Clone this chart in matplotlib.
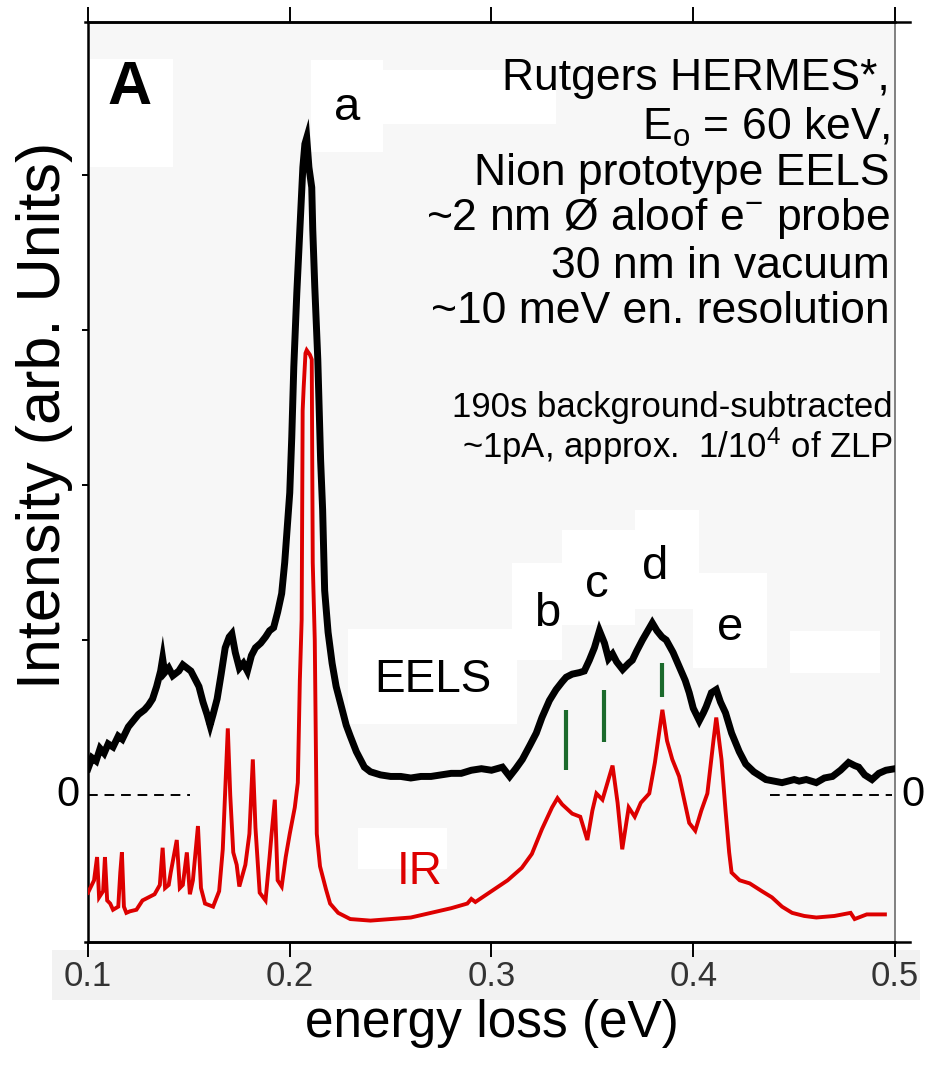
import matplotlib
matplotlib.use("Agg")
import matplotlib.pyplot as plt
from matplotlib import font_manager
from matplotlib.patches import Rectangle

# ---------------- data ----------------
eels_x = [0.1000, 0.1020, 0.1040, 0.1060, 0.1080, 0.1100, 0.1124, 0.1150, 0.1170, 0.1200,
          0.1225, 0.1250, 0.1280, 0.1300, 0.1320, 0.1340, 0.1360, 0.1370, 0.1380, 0.1400,
          0.1420, 0.1450, 0.1470, 0.1490, 0.1510, 0.1530, 0.1550, 0.1570, 0.1590, 0.1605,
          0.1620, 0.1640, 0.1660, 0.1680, 0.1700, 0.1713, 0.1730, 0.1750, 0.1770, 0.1790,
          0.1810, 0.1830, 0.1856, 0.1880, 0.1900, 0.1920, 0.1940, 0.1960, 0.1975, 0.2000,
          0.2010, 0.2020, 0.2035, 0.2050, 0.2065, 0.2075, 0.2084, 0.2095, 0.2109, 0.2114,
          0.2124, 0.2139, 0.2153, 0.2163, 0.2173, 0.2190, 0.2210, 0.2230, 0.2250, 0.2280,
          0.2300, 0.2330, 0.2370, 0.2400, 0.2450, 0.2500, 0.2550, 0.2600, 0.2650, 0.2700,
          0.2750, 0.2800, 0.2850, 0.2900, 0.2950, 0.3000, 0.3054, 0.3090, 0.3120, 0.3153,
          0.3190, 0.3222, 0.3250, 0.3287, 0.3320, 0.3350, 0.3370, 0.3400, 0.3436, 0.3460,
          0.3485, 0.3510, 0.3535, 0.3560, 0.3580, 0.3600, 0.3620, 0.3650, 0.3680, 0.3698,
          0.3720, 0.3748, 0.3770, 0.3797, 0.3820, 0.3845, 0.3866, 0.3900, 0.3930, 0.3960,
          0.3980, 0.4000, 0.4030, 0.4050, 0.4064, 0.4090, 0.4114, 0.4135, 0.4160, 0.4190,
          0.4228, 0.4260, 0.4300, 0.4360, 0.4400, 0.4440, 0.4500, 0.4525, 0.4560, 0.4610,
          0.4650, 0.4690, 0.4730, 0.4770, 0.4800, 0.4820, 0.4850, 0.4886, 0.4920, 0.4955,
          0.5000]
eels_y = [0.17, 0.24, 0.22, 0.30, 0.27, 0.33, 0.31, 0.38, 0.36, 0.44,
          0.48, 0.52, 0.55, 0.58, 0.62, 0.70, 0.80, 0.88, 0.79, 0.82,
          0.77, 0.80, 0.84, 0.82, 0.80, 0.75, 0.70, 0.60, 0.52, 0.45,
          0.52, 0.62, 0.78, 0.95, 1.02, 1.04, 0.92, 0.82, 0.85, 0.80,
          0.90, 0.95, 0.98, 1.02, 1.06, 1.08, 1.18, 1.30, 1.50, 1.95,
          2.31, 2.76, 3.24, 3.65, 4.05, 4.20, 4.24, 4.05, 3.92, 3.65,
          3.28, 2.81, 2.16, 1.84, 1.32, 1.05, 0.85, 0.70, 0.60, 0.45,
          0.38, 0.28, 0.18, 0.15, 0.13, 0.12, 0.12, 0.11, 0.12, 0.12,
          0.13, 0.14, 0.14, 0.16, 0.17, 0.16, 0.18, 0.12, 0.17, 0.23,
          0.32, 0.40, 0.50, 0.61, 0.68, 0.73, 0.76, 0.78, 0.79, 0.80,
          0.87, 0.95, 1.06, 0.98, 0.88, 0.91, 0.86, 0.81, 0.85, 0.87,
          0.93, 1.00, 1.05, 1.11, 1.06, 1.02, 1.00, 0.92, 0.83, 0.74,
          0.66, 0.56, 0.48, 0.53, 0.57, 0.66, 0.68, 0.60, 0.53, 0.40,
          0.28, 0.20, 0.15, 0.10, 0.09, 0.08, 0.10, 0.09, 0.10, 0.08,
          0.11, 0.12, 0.16, 0.21, 0.19, 0.18, 0.13, 0.10, 0.14, 0.16,
          0.17]

ir_x = [0.1000, 0.1030, 0.1045, 0.1055, 0.1075, 0.1084, 0.1095, 0.1110, 0.1124, 0.1150,
        0.1160, 0.1168, 0.1178, 0.1190, 0.1208, 0.1240, 0.1270, 0.1300, 0.1330, 0.1356,
        0.1370, 0.1382, 0.1400, 0.1410, 0.1440, 0.1455, 0.1470, 0.1490, 0.1505, 0.1520,
        0.1545, 0.1560, 0.1580, 0.1620, 0.1650, 0.1668, 0.1680, 0.1693, 0.1705, 0.1720,
        0.1737, 0.1750, 0.1780, 0.1800, 0.1817, 0.1830, 0.1851, 0.1880, 0.1900, 0.1910,
        0.1926, 0.1940, 0.1960, 0.1980, 0.2000, 0.2025, 0.2040, 0.2050, 0.2059, 0.2064,
        0.2069, 0.2078, 0.2084, 0.2100, 0.2109, 0.2114, 0.2124, 0.2134, 0.2150, 0.2180,
        0.2200, 0.2240, 0.2300, 0.2400, 0.2500, 0.2600, 0.2700, 0.2800, 0.2880, 0.2900,
        0.2920, 0.3000, 0.3080, 0.3150, 0.3200, 0.3250, 0.3300, 0.3327, 0.3350, 0.3400,
        0.3440, 0.3475, 0.3500, 0.3520, 0.3550, 0.3600, 0.3625, 0.3648, 0.3680, 0.3710,
        0.3740, 0.3782, 0.3810, 0.3847, 0.3870, 0.3896, 0.3930, 0.3980, 0.4010, 0.4040,
        0.4070, 0.4100, 0.4114, 0.4140, 0.4160, 0.4178, 0.4190, 0.4230, 0.4280, 0.4340,
        0.4390, 0.4440, 0.4490, 0.4550, 0.4610, 0.4700, 0.4780, 0.4800, 0.4860, 0.4950]
ir_y = [-0.63, -0.55, -0.40, -0.66, -0.62, -0.40, -0.68, -0.70, -0.74, -0.72,
        -0.50, -0.37, -0.72, -0.76, -0.75, -0.74, -0.68, -0.66, -0.64, -0.58,
        -0.34, -0.60, -0.58, -0.50, -0.29, -0.60, -0.58, -0.37, -0.64, -0.55,
        -0.20, -0.60, -0.70, -0.72, -0.62, -0.35, 0.03, 0.43, 0.00, -0.37,
        -0.45, -0.59, -0.45, -0.25, 0.23, -0.21, -0.63, -0.68, -0.40, -0.25,
        -0.03, -0.55, -0.59, -0.40, -0.25, -0.08, 0.08, 0.74, 1.13, 2.48,
        2.63, 2.85, 2.87, 2.84, 2.81, 1.50, 1.00, -0.25, -0.46, -0.61,
        -0.70, -0.76, -0.80, -0.81, -0.80, -0.79, -0.76, -0.73, -0.70, -0.67,
        -0.69, -0.62, -0.55, -0.47, -0.38, -0.22, -0.08, -0.02, -0.06, -0.12,
        -0.14, -0.29, -0.10, 0.01, -0.03, 0.19, -0.05, -0.35, -0.08, -0.14,
        -0.05, 0.01, 0.21, 0.55, 0.35, 0.23, 0.12, -0.18, -0.23, -0.10,
        0.01, 0.35, 0.50, 0.23, -0.10, -0.37, -0.50, -0.55, -0.57, -0.62,
        -0.66, -0.72, -0.76, -0.78, -0.79, -0.78, -0.76, -0.80, -0.77, -0.77]

marker_x = [0.3371, 0.3559, 0.3847]
marker_lo = [0.16, 0.34, 0.63]
marker_hi = [0.55, 0.68, 0.85]

peak_labels = ["a", "b", "c", "d", "e"]
peak_lx = [0.2284, 0.3275, 0.3523, 0.3810, 0.4182]
peak_ly = [4.43, 1.17, 1.355, 1.47, 1.08]

info_lines = ["Rutgers HERMES*,", r"E$_\mathrm{o}$ = 60 keV,", "Nion prototype EELS",
              r"~2 nm Ø aloof e$^{\mathrm{-}}$ probe", "30 nm in vacuum", "~10 meV en. resolution"]
info_y = [4.62, 4.31, 4.01, 3.72, 3.41, 3.12]
note_lines = ["190s background-subtracted", r"~1pA, approx.  1/10$^{\mathrm{4}}$ of ZLP"]
note_y = [2.50, 2.25]

xticks = [0.1, 0.2, 0.3, 0.4, 0.5]
xticklabels = ["0.1", "0.2", "0.3", "0.4", "0.5"]
yticks = [1, 2, 3, 4]

# white label boxes (x0, x1, y0, y1) in data units
boxes = [(0.1010, 0.1421, 4.05, 4.75),
         (0.2106, 0.2463, 4.15, 4.74),
         (0.2269, 0.3320, 4.33, 4.68),
         (0.2289, 0.3127, 0.46, 1.07),
         (0.2338, 0.2779, -0.48, -0.21),
         (0.3102, 0.3350, 0.87, 1.50),
         (0.3350, 0.3712, 1.10, 1.71),
         (0.3712, 0.4028, 1.20, 1.84),
         (0.4000, 0.4366, 0.82, 1.43),
         (0.4480, 0.4926, 0.79, 1.06)]

# ---------------- fonts ----------------
names = {f.name for f in font_manager.fontManager.ttflist}
BASE = "Liberation Sans" if "Liberation Sans" in names else "DejaVu Sans"
NARROW = "Liberation Sans Narrow" if "Liberation Sans Narrow" in names else BASE
plt.rcParams["font.family"] = [BASE, "DejaVu Sans"]
plt.rcParams["mathtext.fontset"] = "custom"
plt.rcParams["mathtext.rm"] = BASE
plt.rcParams["mathtext.it"] = BASE + ":italic"
plt.rcParams["mathtext.bf"] = BASE + ":bold"
narrow_ok = NARROW != BASE

# ---------------- figure ----------------
W, H = 937, 1069
fig = plt.figure(figsize=(W / 100, H / 100), dpi=100)
fig.patch.set_facecolor("white")
ax = fig.add_axes([88 / W, (H - 942) / H, 807 / W, 920 / H])
ax.set_facecolor("#f7f7f7")
ax.set_xlim(0.1, 0.5)
ax.set_ylim(-0.948, 4.987)

# grey band behind tick labels
fig.add_artist(Rectangle((52 / W, (H - 1000) / H), 868 / W, 50 / H,
                         transform=fig.transFigure, facecolor="#f2f2f2",
                         edgecolor="none", zorder=-1))

for (x0, x1, y0, y1) in boxes:
    ax.add_patch(Rectangle((x0, y0), x1 - x0, y1 - y0, facecolor="white",
                           edgecolor="none", zorder=1))

# zero reference dashes
ax.plot([0.1, 0.1505], [0, 0], color="black", lw=1.4, ls=(0, (5, 3.5)), zorder=2)
ax.plot([0.438, 0.4985], [0, 0], color="black", lw=1.4, ls=(0, (5, 3.5)), zorder=2)

ax.plot(ir_x, ir_y, color="#dd0000", lw=2.8, zorder=3, solid_joinstyle="miter")
ax.plot(eels_x, eels_y, color="black", lw=5.0, zorder=4, solid_joinstyle="miter")
ax.vlines(marker_x, marker_lo, marker_hi, color="#1b6a2c", lw=3.0, zorder=5)

# spines and ticks
for s in ["left", "top", "bottom"]:
    ax.spines[s].set_linewidth(1.8)
    ax.spines[s].set_color("black")
ax.spines["right"].set_linewidth(1.3)
ax.spines["right"].set_color("#777777")
# extensions of top / bottom frame lines past the right edge
for yy in (0, 1):
    ax.plot([-0.004, 1.018], [yy, yy], transform=ax.transAxes, color="black",
            lw=1.8, clip_on=False, zorder=6)

ax.set_xticks(xticks)
ax.set_xticklabels(xticklabels)
ax.set_yticks(yticks)
ax.set_yticklabels([])
ax.tick_params(axis="x", which="major", direction="out", length=11, width=1.4,
               top=True, bottom=True, labeltop=False, pad=2,
               labelsize=(28 if narrow_ok else 25), labelcolor="#333333")
ax.tick_params(axis="y", which="major", direction="out", length=4, width=1.4,
               left=True, right=False)
for lbl in ax.get_xticklabels():
    lbl.set_fontfamily([NARROW, "DejaVu Sans"])

ax.set_xlabel("energy loss (eV)", fontsize=(44 if narrow_ok else 37),
              family=[NARROW, "DejaVu Sans"], labelpad=4)
fig.text(45 / W, 1 - 415 / H, "Intensity (arb. Units)", rotation=90,
         fontsize=44, ha="center", va="center")

# zero labels
ax.text(0.0901, 0.0, "0", fontsize=30, ha="center", va="center", clip_on=False)
ax.text(0.5089, 0.0, "0", fontsize=30, ha="center", va="center", clip_on=False)

# panel letter
ax.text(0.1208, 4.56, "A", fontsize=44, fontweight="bold", ha="center", va="center",
        family=[NARROW, "DejaVu Sans"], zorder=7)

# peak letters and curve labels
for t, xx, yy in zip(peak_labels, peak_lx, peak_ly):
    ax.text(xx, yy, t, fontsize=34, ha="center", va="center", zorder=7)
ax.text(0.271, 0.742, "EELS", fontsize=33, ha="center", va="center", zorder=7)
ax.text(0.2646, -0.497, "IR", fontsize=33, color="#dd0000", ha="center", va="center",
        zorder=7)

for t, yy in zip(info_lines, info_y):
    ax.text(0.4975, yy, t, fontsize=32, ha="right", va="center", zorder=7)
for t, yy in zip(note_lines, note_y):
    ax.text(0.4990, yy, t, fontsize=25, ha="right", va="center", zorder=7)

fig.savefig("out.png", dpi=100)
